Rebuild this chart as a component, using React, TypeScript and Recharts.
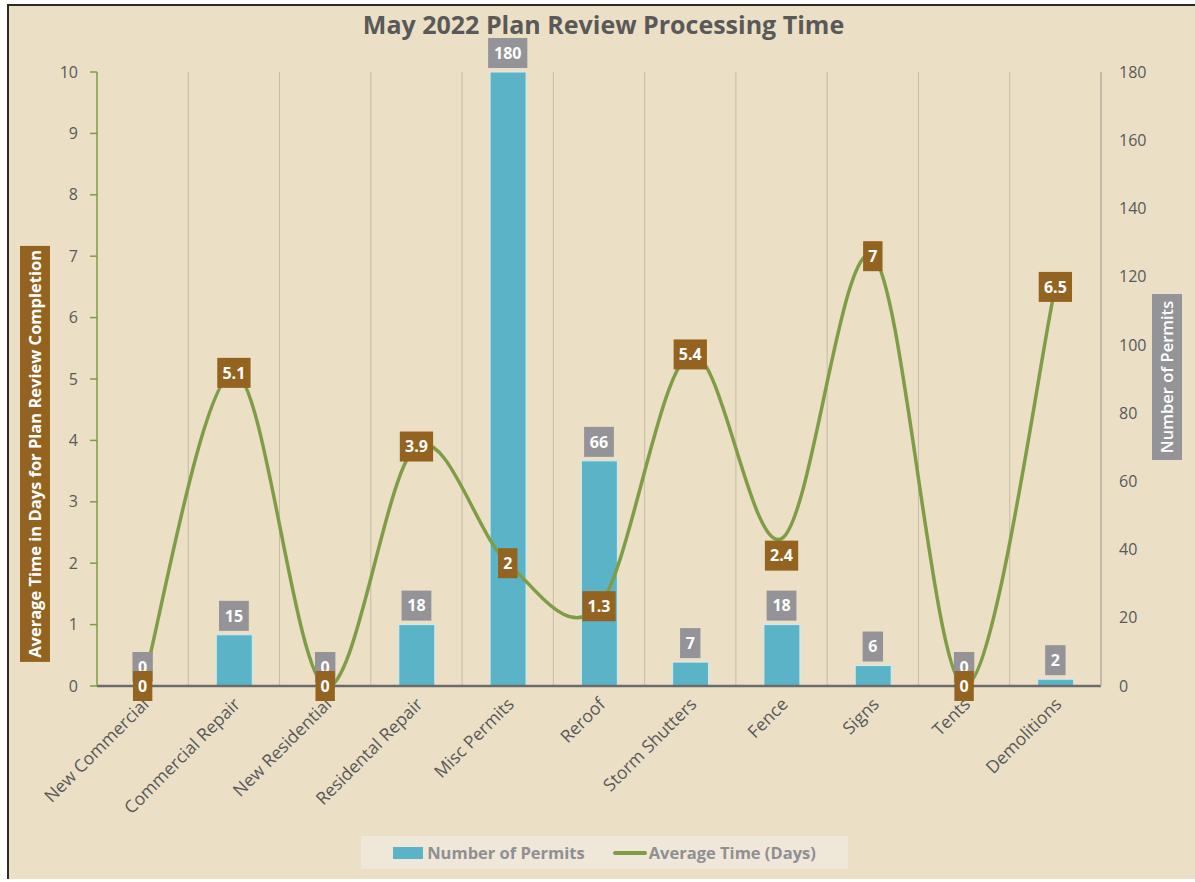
import React from 'react';
import {
  ComposedChart, Bar, Line, XAxis, YAxis, CartesianGrid, LabelList, Legend,
} from 'recharts';

const categories = [
  'New Commercial', 'Commercial Repair', 'New Residential', 'Residental Repair',
  'Misc Permits', 'Reroof', 'Storm Shutters', 'Fence', 'Signs', 'Tents', 'Demolitions',
];
const permits = [0, 15, 0, 18, 180, 66, 7, 18, 6, 0, 2];
const avgDays = [0, 5.1, 0, 3.9, 2, 1.3, 5.4, 2.4, 7, 0, 6.5];
const leftTicks = [0, 1, 2, 3, 4, 5, 6, 7, 8, 9, 10];
const rightTicks = [0, 20, 40, 60, 80, 100, 120, 140, 160, 180];

const data = categories.map((name, i) => ({ name, permits: permits[i], avg: avgDays[i] }));

const FONT = '"Open Sans", "Noto Sans", sans-serif';
const BG = '#EBE0C6';
const BAR = '#5AB3C7';
const LINE = '#7F9D46';
const BROWN = '#94631F';
const GRAY_BOX = '#939398';
const TEXT = '#595959';

// Excel-like smoothed line (Catmull-Rom through the points)
const smoothCurve = (context: any) => {
  let pts: number[][] = [];
  return {
    areaStart() {},
    areaEnd() {},
    lineStart() { pts = []; },
    point(x: number, y: number) { pts.push([+x, +y]); },
    lineEnd() {
      if (!pts.length) return;
      context.moveTo(pts[0][0], pts[0][1]);
      for (let i = 0; i < pts.length - 1; i++) {
        const p0 = pts[i - 1] || pts[i];
        const p1 = pts[i];
        const p2 = pts[i + 1];
        const p3 = pts[i + 2] || p2;
        context.bezierCurveTo(
          p1[0] + (p2[0] - p0[0]) / 6, p1[1] + (p2[1] - p0[1]) / 6,
          p2[0] - (p3[0] - p1[0]) / 6, p2[1] - (p3[1] - p1[1]) / 6,
          p2[0], p2[1],
        );
      }
    },
  };
};

const textW = (s: string) => {
  let w = 0;
  for (const c of s) w += c === '.' ? 4.5 : 9.4;
  return w;
};

// gray value boxes sitting on top of each bar (drawn at the bar top point)
const BarLabel = (props: any) => {
  const vb = props.viewBox || props;
  const x = (vb.x ?? props.x) + ((vb.width ?? props.width) || 0) / 2;
  const y = vb.y ?? props.y;
  const s = String(props.value);
  const w = textW(s) + 11;
  const h = 30;
  return (
    <g>
      <rect x={x - w / 2} y={y - 4 - h} width={w} height={h} fill={GRAY_BOX} />
      <text x={x} y={y - 4 - h / 2} dy="0.36em" textAnchor="middle" fill="#fff"
        fontFamily={FONT} fontWeight={700} fontSize={16}>{s}</text>
    </g>
  );
};

const LINE_LABEL_SHIFT: Record<number, number> = { 7: 17 };

const LineLabel = (props: any) => {
  const vb = props.viewBox || props;
  const x = vb.x ?? props.x;
  const y = (vb.y ?? props.y) + (LINE_LABEL_SHIFT[props.index] || 0);
  const s = String(props.value);
  const w = textW(s) + 10;
  const h = 30;
  return (
    <g>
      <rect x={x - w / 2} y={y - h / 2} width={w} height={h} fill={BROWN} />
      <text x={x} y={y} dy="0.36em" textAnchor="middle" fill="#fff"
        fontFamily={FONT} fontWeight={700} fontSize={16}>{s}</text>
    </g>
  );
};

const XTick = (props: any) => {
  const { x, y, payload } = props;
  return (
    <g transform={`translate(${x + 3},${y + 7})`}>
      <text textAnchor="end" transform="rotate(-45)" dy="0.35em" fill={TEXT}
        fontFamily={FONT} fontSize={17.5}>{payload.value}</text>
    </g>
  );
};

const LeftTitle = (props: any) => {
  const vb = props.viewBox;
  const cx = vb.x + 35;
  const cy = vb.y + vb.height * 0.622;
  const w = 30, h = 416;
  return (
    <g>
      <rect x={cx - w / 2} y={cy - h / 2} width={w} height={h} fill={BROWN} />
      <text x={cx} y={cy} dy="0.36em" textAnchor="middle" fill="#fff" fontFamily={FONT}
        fontWeight={700} fontSize={16.5} transform={`rotate(-90, ${cx}, ${cy})`}>
        Average Time in Days for Plan Review Completion
      </text>
    </g>
  );
};

const RightTitle = (props: any) => {
  const vb = props.viewBox;
  const cx = vb.x + 66;
  const cy = vb.y + vb.height / 2 - 2;
  const w = 30, h = 166;
  return (
    <g>
      <rect x={cx - w / 2} y={cy - h / 2} width={w} height={h} fill={GRAY_BOX} />
      <text x={cx} y={cy} dy="0.36em" textAnchor="middle" fill="#fff" fontFamily={FONT}
        fontWeight={600} fontSize={16.5} transform={`rotate(-90, ${cx}, ${cy})`}>
        Number of Permits
      </text>
    </g>
  );
};

const LegendContent = () => (
  <div style={{
    width: 487, height: 33, background: '#EFE7D7', display: 'flex', alignItems: 'center',
    justifyContent: 'center', fontFamily: FONT, fontWeight: 700, fontSize: 16.5, color: '#8F8F94',
  }}>
    <span style={{ display: 'inline-block', width: 30, height: 12, background: BAR, marginRight: 4 }} />
    <span>Number of Permits</span>
    <span style={{ display: 'inline-block', width: 34, height: 4, background: LINE, borderRadius: 2, marginLeft: 28, marginRight: 2 }} />
    <span>Average Time (Days)</span>
  </div>
);

export default function App() {
  return (
    <div style={{ position: 'absolute', left: 0, top: 0, width: 1195, height: 882, background: '#fff', overflow: 'hidden' }}>
      <div style={{
        position: 'absolute', left: 7, top: 4, width: 1200, height: 873,
        borderLeft: '2.5px solid #2A2A2A', borderTop: '2.5px solid #2A2A2A', background: BG,
      }} />
      <div style={{
        position: 'absolute', left: 6, top: 7, width: 1195, textAlign: 'center',
        fontFamily: FONT, fontWeight: 700, fontSize: 25, color: TEXT, lineHeight: '34px',
      }}>
        May 2022 Plan Review Processing Time
      </div>
      <div style={{ position: 'absolute', left: 0, top: 0 }}>
        <ComposedChart width={1195} height={882} data={data}
          margin={{ top: 72, right: 0, bottom: 0, left: 0 }} barSize={36}>
          <CartesianGrid horizontal={false} vertical stroke="#C4BBA6" strokeWidth={1}
            verticalCoordinatesGenerator={({ offset }: any) => {
              const step = offset.width / categories.length;
              return categories.slice(1).map((_, i) => offset.left + step * (i + 1));
            }} />
          <XAxis dataKey="name" height={196} interval={0} tickLine={false}
            axisLine={{ stroke: '#6B6B6B', strokeWidth: 2.5 }} tick={<XTick />} />
          <YAxis yAxisId="left" orientation="left" width={97} domain={[0, 10]} ticks={leftTicks}
            interval={0} tickSize={7} tickMargin={12}
            axisLine={{ stroke: '#7E9C46', strokeWidth: 1.5 }} tickLine={{ stroke: '#7E9C46', strokeWidth: 1.5 }}
            tick={{ fill: TEXT, fontSize: 16, fontFamily: FONT }}
            label={<LeftTitle />} />
          <YAxis yAxisId="right" orientation="right" width={94} domain={[0, 180]} ticks={rightTicks}
            interval={0} tickSize={0} tickMargin={18} tickLine={false}
            axisLine={{ stroke: '#B5AE9F', strokeWidth: 1.5 }}
            tick={{ fill: TEXT, fontSize: 16, fontFamily: FONT, textAnchor: 'start' }}
            label={<RightTitle />} />
          <Legend layout="horizontal" verticalAlign="middle" align="center"
            wrapperStyle={{ top: 836, left: 361, width: 487, height: 33 }}
            content={<LegendContent />} />
          <Bar yAxisId="right" dataKey="permits" fill={BAR} stroke="#D3ECF1" strokeWidth={1}
            isAnimationActive={false} />
          <Line yAxisId="right" dataKey="permits" stroke="none" dot={false} activeDot={false}
            isAnimationActive={false} legendType="none">
            <LabelList dataKey="permits" content={<BarLabel />} />
          </Line>
          <Line yAxisId="left" dataKey="avg" type={smoothCurve as any} stroke={LINE} strokeWidth={3.5}
            dot={false} activeDot={false} isAnimationActive={false}>
            <LabelList dataKey="avg" content={<LineLabel />} />
          </Line>
        </ComposedChart>
      </div>
    </div>
  );
}
